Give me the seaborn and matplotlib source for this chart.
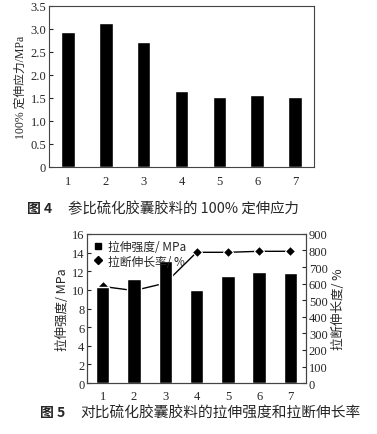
import matplotlib
matplotlib.use("Agg")
import matplotlib.pyplot as plt
from matplotlib.lines import Line2D
import seaborn as sns

# data
samples = ["1", "2", "3", "4", "5", "6", "7"]
modulus_100 = [2.93, 3.12, 2.72, 1.64, 1.53, 1.56, 1.52]
tensile_strength = [10.3, 11.15, 13.05, 10.0, 11.5, 11.9, 11.8]
elongation = [583, 558, 603, 789, 789, 795, 795]

sns.set_style("ticks")
plt.rcParams["font.family"] = ["Liberation Serif", "Noto Sans CJK SC"]
plt.rcParams["xtick.direction"] = "in"
plt.rcParams["ytick.direction"] = "in"

fig = plt.figure(figsize=(3.77, 4.35), dpi=100)
cjk = ["Noto Sans CJK SC", "DejaVu Sans"]
tick_fs = 9

# Figure 4
ax1 = fig.add_axes([0.130, 0.614, 0.703, 0.370])
sns.barplot(x=samples, y=modulus_100, color="black", saturation=1, width=0.36, ax=ax1)
ax1.set_xlim(-0.5, 6.5)
ax1.set_ylim(0, 3.5)
ax1.set_yticks([0, 0.5, 1.0, 1.5, 2.0, 2.5, 3.0, 3.5])
ax1.set_yticklabels(["0", "0.5", "1.0", "1.5", "2.0", "2.5", "3.0", "3.5"])
ax1.tick_params(axis="x", length=0, labelsize=tick_fs, pad=6)
ax1.tick_params(axis="y", length=3, labelsize=tick_fs, pad=2)
ax1.set_ylabel("100% 定伸应力/MPa", fontsize=8.5, labelpad=3)
for s in ax1.spines.values():
    s.set_linewidth(0.8)
    s.set_color("#444444")

fig.text(0.072, 0.519, "图 4", fontsize=10, family=cjk, ha="left", va="center", weight="bold")
fig.text(0.18, 0.519, "参比硫化胶囊胶料的 100% 定伸应力", fontsize=10.4, family=cjk, ha="left", va="center")

# Figure 5
ax = fig.add_axes([0.231, 0.117, 0.581, 0.343])
ax2 = ax.twinx()
sns.barplot(x=samples, y=tensile_strength, color="black", saturation=1, width=0.43, ax=ax)
sns.lineplot(x=list(range(len(samples))), y=elongation, color="black", marker="D",
             markersize=5, linewidth=1.0, ax=ax2)
ax.set_zorder(ax2.get_zorder() + 1)
ax.patch.set_visible(False)
ax.set_xlim(-0.5, 6.5)
ax2.set_xlim(-0.5, 6.5)
ax.set_ylim(0, 16)
ax.set_yticks(range(0, 17, 2))
ax2.set_ylim(0, 900)
ax2.set_yticks(range(0, 901, 100))
ax.tick_params(axis="x", length=0, labelsize=tick_fs, pad=5)
ax.tick_params(axis="y", length=3, labelsize=tick_fs, pad=2)
ax2.tick_params(axis="y", length=3, labelsize=tick_fs, pad=2)
ax.set_ylabel("拉伸强度/ MPa", fontsize=9, family=cjk, labelpad=2)
ax2.set_ylabel("拉断伸长度/ %", fontsize=9, family=cjk, labelpad=3)
for a in (ax, ax2):
    for s in a.spines.values():
        s.set_linewidth(0.8)
        s.set_color("#444444")

handles = [Line2D([], [], color="black", marker="s", linestyle="none", markersize=5),
           Line2D([], [], color="black", marker="D", linestyle="none", markersize=4.5)]
ax.legend(handles, ["拉伸强度/ MPa", "拉断伸长率/ %"], loc="upper left", frameon=False,
          prop={"family": cjk, "size": 8.5},
          handlelength=0.8, handletextpad=0.4, borderaxespad=0.15, labelspacing=0.1)

fig.text(0.106, 0.050, "图 5", fontsize=10, family=cjk, ha="left", va="center", weight="bold")
fig.text(0.212, 0.050, "对比硫化胶囊胶料的拉伸强度和拉断伸长率", fontsize=10.6, family=cjk, ha="left", va="center")

fig.savefig("out.png", dpi=100)
